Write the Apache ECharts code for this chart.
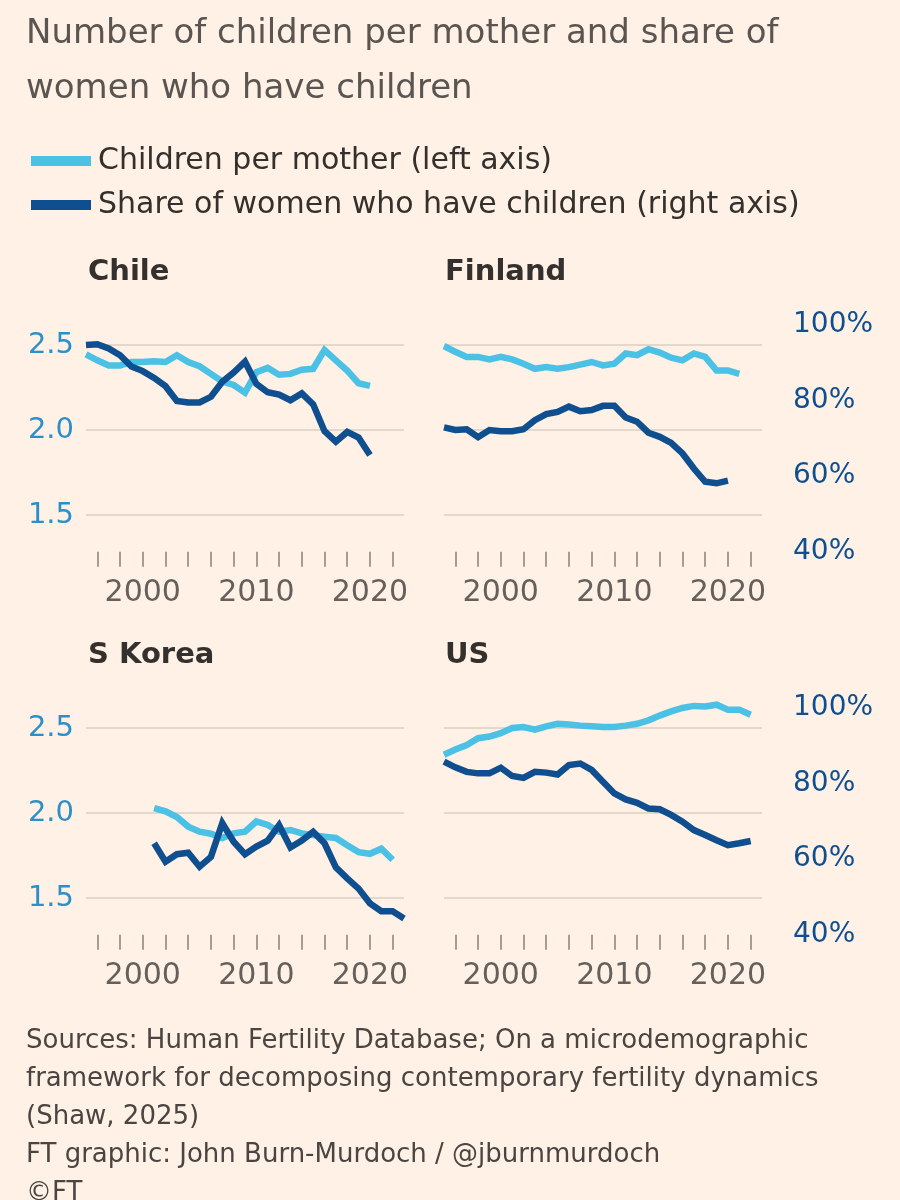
<!DOCTYPE html>
<html>
<head>
<meta charset="utf-8">
<script src="https://cdn.jsdelivr.net/npm/echarts@6/dist/echarts.min.js"></script>
<style>
  html, body { margin: 0; padding: 0; background: #fff1e5; }
  #main { width: 900px; height: 1200px; }
</style>
</head>
<body>
<div id="main"></div>
<script>
// data
var chileStart = 1995;
var chileKids = [2.445, 2.41, 2.38, 2.38, 2.40, 2.40, 2.405, 2.40, 2.44, 2.40, 2.375, 2.33, 2.285, 2.265, 2.22, 2.34, 2.365, 2.325, 2.33, 2.355, 2.36, 2.47, 2.41, 2.35, 2.275, 2.26];
var chileShare = [94.7, 94.9, 93.8, 92.0, 89.0, 87.8, 86.0, 83.8, 79.9, 79.5, 79.5, 81.0, 85.0, 87.4, 90.3, 84.4, 82.2, 81.6, 80.1, 81.9, 79.0, 71.9, 69.1, 71.7, 70.2, 65.6];

var finlandStart = 1995;
var finlandKids = [2.494, 2.46, 2.43, 2.43, 2.415, 2.43, 2.415, 2.39, 2.36, 2.37, 2.36, 2.37, 2.385, 2.40, 2.38, 2.39, 2.45, 2.44, 2.475, 2.455, 2.425, 2.41, 2.45, 2.43, 2.35, 2.35, 2.33];
var finlandShare = [72.9, 72.2, 72.4, 70.3, 72.2, 71.9, 71.9, 72.4, 74.8, 76.4, 77.0, 78.4, 77.2, 77.5, 78.6, 78.6, 75.5, 74.4, 71.5, 70.4, 68.8, 66.0, 62.0, 58.5, 58.1, 58.8];

var koreaStart = 2001;
var koreaKids = [2.029, 2.01, 1.976, 1.92, 1.89, 1.878, 1.853, 1.88, 1.89, 1.95, 1.93, 1.89, 1.90, 1.88, 1.87, 1.86, 1.853, 1.81, 1.77, 1.76, 1.79, 1.725];
var koreaShare = [64.2, 59.3, 61.3, 61.7, 58.0, 60.6, 69.5, 64.6, 61.3, 63.3, 64.9, 69.0, 63.1, 64.9, 67.2, 64.2, 57.8, 54.9, 52.2, 48.3, 46.2, 46.2, 44.3];

var usStart = 1995;
var usKids = [2.343, 2.373, 2.40, 2.44, 2.45, 2.47, 2.50, 2.506, 2.49, 2.51, 2.525, 2.52, 2.514, 2.51, 2.506, 2.506, 2.514, 2.525, 2.545, 2.573, 2.598, 2.618, 2.63, 2.627, 2.637, 2.608, 2.608, 2.578];
var usShare = [85.8, 84.3, 83.1, 82.7, 82.7, 84.2, 82.0, 81.5, 83.1, 82.9, 82.4, 84.9, 85.3, 83.6, 80.5, 77.4, 75.8, 74.9, 73.4, 73.2, 71.7, 69.9, 67.7, 66.4, 65.0, 63.7, 64.2, 64.8];

var tickYears = [1996, 1998, 2000, 2002, 2004, 2006, 2008, 2010, 2012, 2014, 2016, 2018, 2020, 2022];
var labelYears = [2000, 2010, 2020];

var kidsName = 'Children per mother (left axis)';
var shareName = 'Share of women who have children (right axis)';

var lightBlue = '#4bc1e6';
var darkBlue = '#0f4f8f';
var font = 'DejaVu Sans';

var panels = [
  { title: 'Chile', start: chileStart, kids: chileKids, share: chileShare, col: 0, row: 0 },
  { title: 'Finland', start: finlandStart, kids: finlandKids, share: finlandShare, col: 1, row: 0 },
  { title: 'S Korea', start: koreaStart, kids: koreaKids, share: koreaShare, col: 0, row: 1 },
  { title: 'US', start: usStart, kids: usKids, share: usShare, col: 1, row: 1 }
];

function pairs(start, vals) {
  return vals.map(function (v, i) { return [start + i, v]; });
}

var grids = [], xAxes = [], yAxes = [], series = [], graphics = [];

panels.forEach(function (p, i) {
  var left = p.col === 0 ? 86 : 444;
  var dy = p.row * 383;

  // share grid (right axis, 40-100%)
  grids.push({ left: left, top: 325 + dy, width: 318, height: 226.7, containLabel: false, outerBoundsMode: 'none' });
  // kids grid (left axis, 1.5-2.5)
  grids.push({ left: left, top: 345 + dy, width: 318, height: 170, containLabel: false, outerBoundsMode: 'none' });

  xAxes.push({
    type: 'value', gridIndex: 2 * i, min: 1995, max: 2023,
    axisLine: { show: false },
    splitLine: { show: false },
    axisTick: { show: true, customValues: tickYears, length: 15, inside: false,
      lineStyle: { color: '#a59c94', width: 2 } },
    axisLabel: { customValues: labelYears, fontSize: 30, fontFamily: font,
      color: '#66605c', margin: 27, formatter: function (v) { return String(v); } }
  });
  xAxes.push({ type: 'value', gridIndex: 2 * i + 1, min: 1995, max: 2023, show: false });

  yAxes.push({
    type: 'value', gridIndex: 2 * i, min: 40, max: 100, interval: 20, position: 'right',
    axisLine: { show: false }, axisTick: { show: false }, splitLine: { show: false },
    axisLabel: { show: p.col === 1, formatter: '{value}%', fontSize: 28, fontFamily: font,
      color: darkBlue, margin: 31 }
  });
  yAxes.push({
    type: 'value', gridIndex: 2 * i + 1, min: 1.5, max: 2.5, interval: 0.5, position: 'left',
    axisLine: { show: false }, axisTick: { show: false },
    splitLine: { show: true, lineStyle: { color: '#e4d8cd', width: 2 } },
    axisLabel: { show: p.col === 0, fontSize: 29, fontFamily: font, color: '#2b8fca', margin: 12,
      formatter: function (v) { return v.toFixed(1); } }
  });

  series.push({
    name: kidsName, type: 'line', xAxisIndex: 2 * i + 1, yAxisIndex: 2 * i + 1,
    data: pairs(p.start, p.kids), symbol: 'none', clip: false, z: 2,
    lineStyle: { color: lightBlue, width: 6.5, join: 'miter' }, itemStyle: { color: lightBlue }
  });
  series.push({
    name: shareName, type: 'line', xAxisIndex: 2 * i, yAxisIndex: 2 * i,
    data: pairs(p.start, p.share), symbol: 'none', clip: false, z: 3,
    lineStyle: { color: darkBlue, width: 6.5, join: 'miter' }, itemStyle: { color: darkBlue }
  });

  graphics.push({
    type: 'text', left: p.col === 0 ? 88 : 445, top: 258 + dy,
    style: { text: p.title, font: 'bold 29px ' + font, fill: '#33302e' }
  });
});

graphics.push({
  type: 'text', left: 26, top: 7,
  style: { text: 'Number of children per mother and share of\nwomen who have children',
    font: '34px ' + font, fill: '#5a5551', lineHeight: 55 }
});
graphics.push({
  type: 'text', left: 26, top: 1022,
  style: {
    text: 'Sources: Human Fertility Database; On a microdemographic\n' +
      'framework for decomposing contemporary fertility dynamics\n' +
      '(Shaw, 2025)\n' +
      'FT graphic: John Burn-Murdoch / @jburnmurdoch\n' +
      '\u00a9FT',
    font: '26px ' + font, fill: '#4a4542', lineHeight: 38
  }
});

var chart = echarts.init(document.getElementById('main'));
chart.setOption({
  backgroundColor: '#fff1e5',
  animation: false,
  grid: grids,
  xAxis: xAxes,
  yAxis: yAxes,
  legend: {
    data: [kidsName, shareName], orient: 'vertical', left: 26, top: 139,
    icon: 'rect', itemWidth: 60, itemHeight: 10, itemGap: 10,
    textStyle: { fontSize: 30, fontFamily: font, color: '#33302e', lineHeight: 34, padding: [0, 0, 0, 2] }
  },
  graphic: graphics,
  series: series
});
</script>
</body>
</html>
